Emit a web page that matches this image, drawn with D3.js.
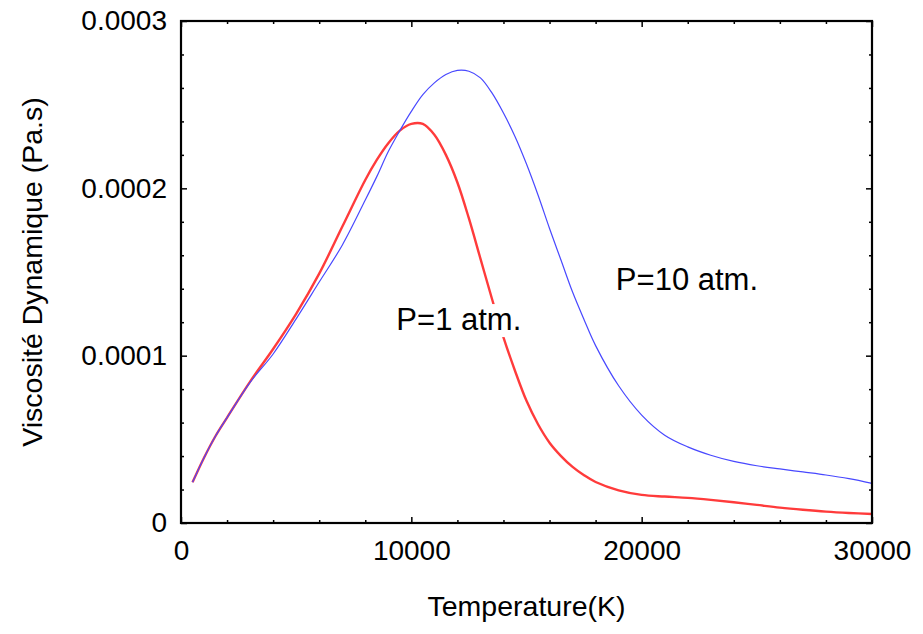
<!DOCTYPE html>
<html>
<head>
<meta charset="utf-8">
<script src="https://cdn.jsdelivr.net/npm/d3@7"></script>
<style>
  html, body { margin: 0; padding: 0; background: #fff; }
  svg { display: block; font-family: "Liberation Sans", Arial, sans-serif; }
</style>
</head>
<body>
<svg id="chart" width="923" height="634"></svg>
<script>
// Temperature samples (K)
const temperature = [500, 1000, 1500, 2000, 3000, 4000, 5000, 6000, 7000, 8000, 8500, 9000, 9500,
  10000, 10500, 11000, 11500, 12000, 12500, 13000, 13500, 14000, 14500, 15000, 15500, 16000,
  16500, 17000, 17500, 18000, 19000, 20000, 21000, 22000, 23000, 24000, 25000, 26000, 27000,
  28000, 29000, 30000];

// Dynamic viscosity, in units of 1e-4 Pa.s
const viscosityP1 = [0.243, 0.39, 0.52, 0.63, 0.845, 1.04, 1.25, 1.49, 1.77, 2.05, 2.17, 2.27, 2.345,
  2.385, 2.385, 2.32, 2.20, 2.035, 1.82, 1.58, 1.34, 1.11, 0.91, 0.73, 0.59, 0.48,
  0.40, 0.335, 0.285, 0.245, 0.195, 0.168, 0.158, 0.150, 0.138, 0.124, 0.108, 0.092, 0.079,
  0.068, 0.060, 0.054];

const viscosityP10 = [0.243, 0.39, 0.52, 0.63, 0.84, 1.01, 1.22, 1.44, 1.66, 1.93, 2.07, 2.22, 2.345,
  2.46, 2.56, 2.63, 2.68, 2.705, 2.70, 2.66, 2.57, 2.45, 2.31, 2.145, 1.96, 1.76,
  1.57, 1.38, 1.215, 1.06, 0.82, 0.645, 0.525, 0.455, 0.405, 0.368, 0.342, 0.323, 0.305,
  0.287, 0.265, 0.237];

const xTicks = [0, 10000, 20000, 30000];
const yTicks = [0, 0.0001, 0.0002, 0.0003];
const yTickLabels = ["0", "0.0001", "0.0002", "0.0003"];

const series = [
  { text: "P=1 atm.", t: 9350, v: 0.0001153, colour: "#ff3b3b", values: viscosityP1, width: 2.4 },
  { text: "P=10 atm.", t: 18880, v: 0.0001392, colour: "#4848ff", values: viscosityP10, width: 1.2 }
];

const svg = d3.select("#chart");
const plot = { left: 181, top: 21, right: 872, bottom: 523 };

const x = d3.scaleLinear().domain([0, 30000]).range([plot.left, plot.right]);
const y = d3.scaleLinear().domain([0, 0.0003]).range([plot.bottom, plot.top]);

// Curves
const line = d3.line()
  .x(d => x(d[0]))
  .y(d => y(d[1] * 1e-4))
  .curve(d3.curveCatmullRom.alpha(0.5));

series.forEach(s => {
  svg.append("path")
    .datum(temperature.map((t, i) => [t, s.values[i]]))
    .attr("fill", "none")
    .attr("stroke", s.colour)
    .attr("stroke-width", s.width)
    .attr("stroke-linejoin", "round")
    .attr("d", line);
});

// Axes with inward ticks on all four sides
const xMinor = d3.range(0, 30001, 2000).filter(v => v % 10000 !== 0);
const yMinor = d3.range(1, 15).map(i => i * 0.00002).filter((v, i) => (i + 1) % 5 !== 0);

function tickGroup(axis, transform) {
  const g = svg.append("g").attr("transform", transform).call(axis);
  g.select(".domain").remove();
  g.selectAll("line").attr("stroke", "#000").attr("stroke-width", 1.5);
  return g;
}

const tickFont = 28;

// bottom
const gxb = tickGroup(d3.axisBottom(x).tickValues(xTicks).tickSize(-6).tickPadding(17)
  .tickFormat(d3.format("d")), `translate(0,${plot.bottom})`);
gxb.selectAll("text").attr("font-size", tickFont).attr("fill", "#000")
  .attr("font-family", "Liberation Sans, Arial, sans-serif");
tickGroup(d3.axisBottom(x).tickValues(xMinor).tickSize(-3).tickFormat(""), `translate(0,${plot.bottom})`);
// top
tickGroup(d3.axisTop(x).tickValues(xTicks).tickSize(-6).tickFormat(""), `translate(0,${plot.top})`);
tickGroup(d3.axisTop(x).tickValues(xMinor).tickSize(-3).tickFormat(""), `translate(0,${plot.top})`);
// left
const gyl = tickGroup(d3.axisLeft(y).tickValues(yTicks).tickSize(-6).tickPadding(14)
  .tickFormat((d, i) => yTickLabels[i]), `translate(${plot.left},0)`);
gyl.selectAll("text").attr("font-size", tickFont).attr("fill", "#000")
  .attr("font-family", "Liberation Sans, Arial, sans-serif");
tickGroup(d3.axisLeft(y).tickValues(yMinor).tickSize(-3).tickFormat(""), `translate(${plot.left},0)`);
// right
tickGroup(d3.axisRight(y).tickValues(yTicks).tickSize(-6).tickFormat(""), `translate(${plot.right},0)`);
tickGroup(d3.axisRight(y).tickValues(yMinor).tickSize(-3).tickFormat(""), `translate(${plot.right},0)`);

// Frame
svg.append("rect")
  .attr("x", plot.left).attr("y", plot.top)
  .attr("width", plot.right - plot.left).attr("height", plot.bottom - plot.top)
  .attr("fill", "none").attr("stroke", "#000").attr("stroke-width", 2.2);

// Series labels on a white backing
series.forEach(s => {
  const g = svg.append("g");
  const bg = g.append("rect").attr("fill", "#fff");
  const t = g.append("text")
    .attr("x", x(s.t)).attr("y", y(s.v))
    .attr("font-size", 31).attr("fill", "#000")
    .text(s.text);
  const b = t.node().getBBox();
  bg.attr("x", b.x - 4).attr("y", b.y + 2)
    .attr("width", b.width + 8).attr("height", b.height - 2);
});

// Axis titles
svg.append("text")
  .attr("x", (plot.left + plot.right) / 2).attr("y", 616)
  .attr("text-anchor", "middle").attr("font-size", 28.5).attr("fill", "#000")
  .text("Temperature(K)");

svg.append("text")
  .attr("transform", `translate(42,${(plot.top + plot.bottom) / 2}) rotate(-90)`)
  .attr("text-anchor", "middle").attr("font-size", 28.5).attr("fill", "#000")
  .text("Viscosité Dynamique (Pa.s)");
</script>
</body>
</html>
